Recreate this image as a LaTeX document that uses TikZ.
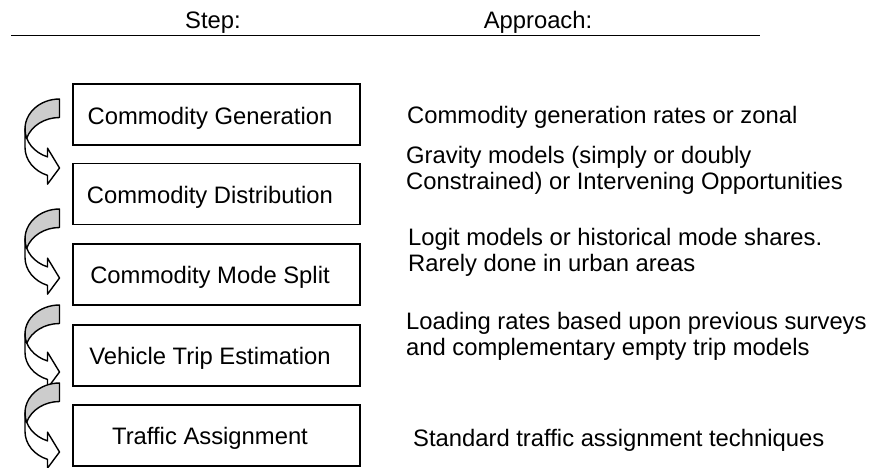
\documentclass[tikz,border=0pt]{standalone}
\usepackage{fontspec}
\setmainfont{Liberation Sans}
\newcommand\bodyfont{\fontsize{23.8pt}{26pt}\selectfont}
\definecolor{arrowgrey}{RGB}{204,204,204}
% curved right arrow (PowerPoint style) between y=#1 (top) and y=#2 (bottom)
\def\cvl{25}\def\cvr{59.5}\def\cvw{34.5}\def\cvth{18.5}\def\cvaw{36}\def\cvah{12}
\newcommand\curvarrow[2]{%
  \pgfmathsetmacro\cvT{#1}%
  \pgfmathsetmacro\cvB{#2}%
  \pgfmathsetmacro\cvhR{(\cvB-\cvT)/2-(\cvth+\cvaw)/4}%
  \pgfmathsetmacro\cvdy{\cvhR*sqrt(\cvw*\cvw-\cvah*\cvah)/\cvw}%
  \pgfmathsetmacro\cvdh{(\cvaw-\cvth)/2}%
  \pgfmathsetmacro\cvtone{180-acos(\cvah/\cvw)}%
  \pgfmathsetmacro\cvti{asin(\cvth/(2*\cvhR))}%
  \pgfmathsetmacro\cvcA{\cvT+\cvhR}%
  \pgfmathsetmacro\cvcB{\cvT+\cvhR+\cvth}%
  \pgfmathsetmacro\cvxa{\cvr-\cvah}%
  \filldraw[arrowfront] (\cvl,\cvcA)
     arc[start angle=180, end angle=\cvtone, x radius=\cvw, y radius=\cvhR]
     -- (\cvxa,\cvcA+\cvdy-\cvdh) -- (\cvr,\cvB-\cvaw/2) -- (\cvxa,\cvcB+\cvdy+\cvdh) -- (\cvxa,\cvcB+\cvdy)
     arc[start angle=\cvtone, end angle=180, x radius=\cvw, y radius=\cvhR] -- cycle;
  \filldraw[arrowback] (\cvr,\cvT+\cvth)
     arc[start angle=270, end angle=180+\cvti, x radius=\cvw, y radius=\cvhR]
     arc[start angle=180-\cvti, end angle=270, x radius=\cvw, y radius=\cvhR] -- cycle;
}
\begin{document}
\begin{tikzpicture}[x=1pt,y=-1pt,
  stepbox/.style={draw=black, line width=1.1pt, minimum width=287pt, minimum height=61pt, inner sep=0pt},
  steplabel/.style={anchor=base, inner sep=0pt, font=\bodyfont},
  approach/.style={anchor=base west, inner sep=0pt, align=left, font=\bodyfont},
  header/.style={anchor=base, inner sep=0pt, font=\bodyfont},
  arrowfront/.style={fill=white, draw=black, line width=1.4pt, line join=round},
  arrowback/.style={fill=arrowgrey, draw=black, line width=1.4pt, line join=round}]
\clip (0,0) rectangle (873,467);

% header
\node[header] (hstep) at (213,28) {Step:};
\node[header] (happr) at (538,28) {Approach:};
\coordinate (hl) at (11,35);
\coordinate (hr) at (760,35);
\draw[line width=1pt] (hl) -- (hr);

% step boxes
\node[stepbox] (b1) at (216.5,114.5) {};
\node[stepbox] (b2) at (216.5,194) {};
\node[stepbox] (b3) at (216.5,274.5) {};
\node[stepbox] (b4) at (216.5,355.5) {};
\node[stepbox] (b5) at (216.5,435.5) {};

\node[steplabel] (t1) at (210,124) {Commodity Generation};
\node[steplabel] (t2) at (210,203) {Commodity Distribution};
\node[steplabel] (t3) at (210,283) {Commodity Mode Split};
\node[steplabel] (t4) at (210,364) {Vehicle Trip Estimation};
\node[steplabel] (t5) at (210,444) {Traffic Assignment};

% approaches
\node[approach] (a1) at (407,123) {Commodity generation rates or zonal};
\node[approach] (a2) at (406,189) {Gravity models (simply or doubly\\Constrained) or Intervening Opportunities};
\node[approach] (a3) at (408,271) {Logit models or historical mode shares.\\Rarely done in urban areas};
\node[approach] (a4) at (406,355) {Loading rates based upon previous surveys\\and complementary empty trip models};
\node[approach] (a5) at (413,446) {Standard traffic assignment techniques};

% curved arrows
\curvarrow{99}{186}
\curvarrow{209}{296}
\curvarrow{305}{390}
\curvarrow{383}{470}
\end{tikzpicture}
\end{document}
